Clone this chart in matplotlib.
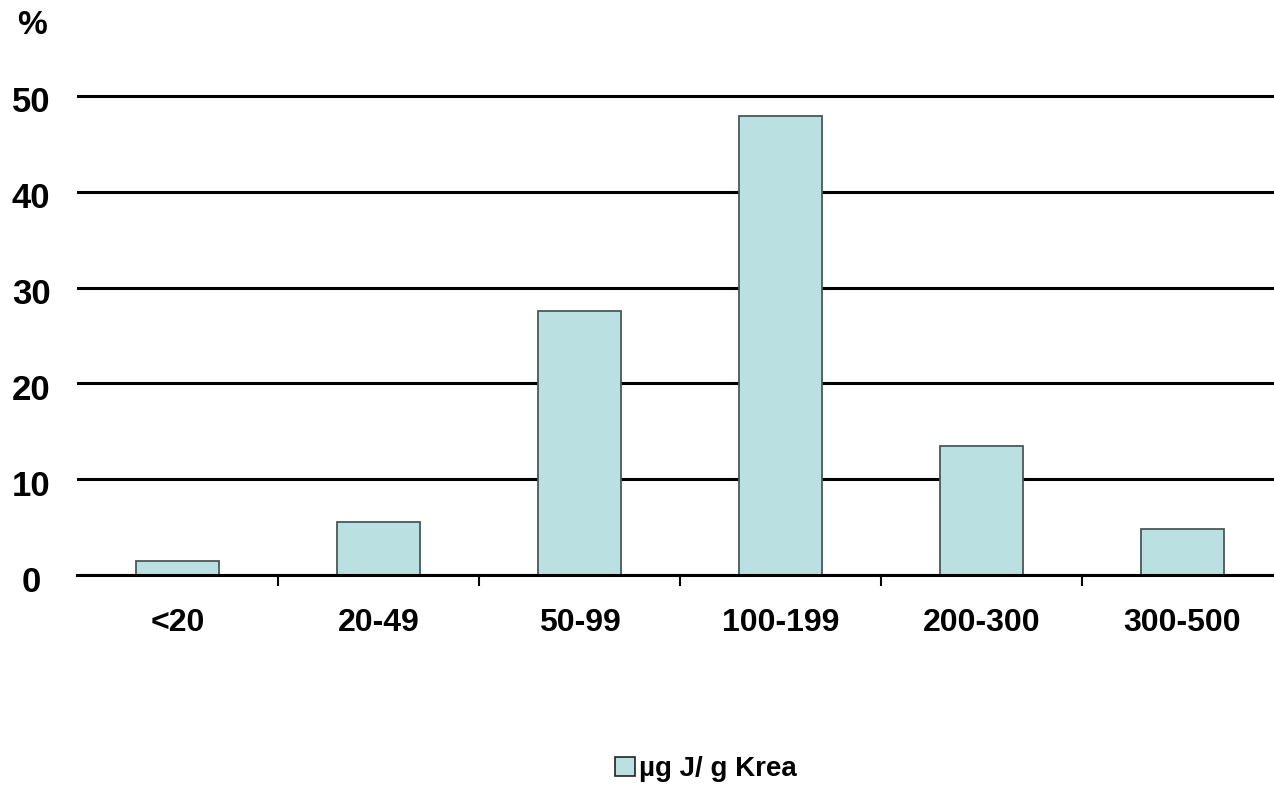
import matplotlib.pyplot as plt
import matplotlib.transforms as mtransforms
from matplotlib.patches import Patch

# data
categories = ['<20', '20-49', '50-99', '100-199', '200-300', '300-500']
percent = [1.5, 5.5, 27.6, 47.9, 13.5, 4.8]
yticks = [0, 10, 20, 30, 40, 50]
series_name = 'µg J/ g Krea'

plt.rcParams['font.family'] = ['Liberation Sans', 'DejaVu Sans']
plt.rcParams['font.weight'] = 'bold'

fig = plt.figure(figsize=(12.74, 7.86), dpi=100)
ax = fig.add_axes([77/1274, 1 - 575/786, 1206/1274, (575 - 91.2)/786])

x = list(range(len(categories)))
ax.bar(x, percent, width=0.41, color='#bae0e2', edgecolor='#4a5858', linewidth=1.3, zorder=2)

ax.set_xlim(-0.5, len(categories) - 0.5)
ax.set_ylim(0, 50.5)
ax.set_axisbelow(True)
ax.yaxis.grid(True, color='black', linewidth=2.2)

for s in ['top', 'right', 'left']:
    ax.spines[s].set_visible(False)
ax.spines['bottom'].set_linewidth(2.2)
ax.spines['bottom'].set_zorder(3)

# y ticks: labels centered left of the plot, sitting a bit below the lines
ax.set_yticks(yticks)
ax.tick_params(axis='y', length=0, pad=33, labelsize=25)
shift = mtransforms.ScaledTranslation(0, -7/100, fig.dpi_scale_trans)
for lab in ax.get_yticklabels():
    lab.set_horizontalalignment('center')
    lab.set_verticalalignment('center')
    lab.set_fontweight('bold')
    lab.set_transform(lab.get_transform() + shift)

# x ticks: marks at category borders, labels at centers
ax.set_xticks([i + 0.5 for i in x[:-1]])
ax.set_xticklabels([])
ax.tick_params(axis='x', which='major', length=8, width=1.5, direction='out')
ax.set_xticks(x, minor=True)
ax.set_xticklabels(categories, minor=True, fontsize=23, fontweight='bold')
ax.tick_params(axis='x', which='minor', length=0, pad=24)

fig.text(32/1274, 1 - 25/786, '%', ha='center', va='center', fontsize=24, fontweight='bold')

handle = Patch(facecolor='#bae0e2', edgecolor='#222222', linewidth=1.2)
fig.legend([handle], [series_name], loc='center', bbox_to_anchor=(706/1274, 1 - 769/786),
           frameon=False, handlelength=0.7, handleheight=0.7,
           handletextpad=0.15, prop={'weight': 'bold', 'size': 20})

fig.savefig('out.png', dpi=100)
